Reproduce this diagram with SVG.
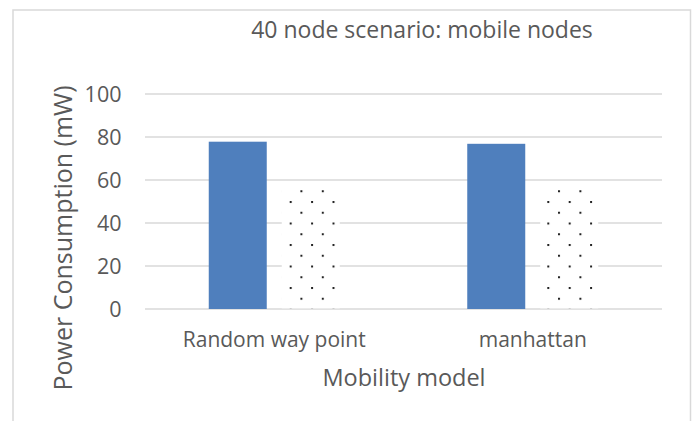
<svg xmlns="http://www.w3.org/2000/svg" width="697" height="421" viewBox="0 0 697 421">
<style>
text{font-family:"Open Sans","Liberation Sans",sans-serif;fill:#595959}
.grid{stroke:#d9d9d9;stroke-width:1.5}
.tick{font-size:21.5px;text-anchor:end}
.cat{font-size:21px;text-anchor:middle}
.blue{fill:#4f7fbd}
</style>
<defs>
<pattern id="dots1" patternUnits="userSpaceOnUse" x="289.7" y="201" width="21.4" height="21.5">
<rect x="0" y="0" width="2" height="2" fill="#222"/>
<rect x="10.7" y="10.75" width="2" height="2" fill="#222"/>
</pattern>
<pattern id="dots2" patternUnits="userSpaceOnUse" x="547.3" y="201" width="21.4" height="21.5">
<rect x="0" y="0" width="2" height="2" fill="#222"/>
<rect x="10.7" y="10.75" width="2" height="2" fill="#222"/>
</pattern>
</defs>
<rect x="0" y="0" width="697" height="421" fill="#fff"/>
<rect x="13" y="10" width="677.5" height="420" fill="#fff" stroke="#d9d9d9" stroke-width="1.5"/>
<text x="422" y="38" font-size="23" text-anchor="middle">40 node scenario: mobile nodes</text>
<g id="grid">
<line class="grid" x1="145" y1="94" x2="662" y2="94"/>
<line class="grid" x1="145" y1="137" x2="662" y2="137"/>
<line class="grid" x1="145" y1="180" x2="662" y2="180"/>
<line class="grid" x1="145" y1="223" x2="662" y2="223"/>
<line class="grid" x1="145" y1="266" x2="662" y2="266"/>
<line class="grid" x1="145" y1="309" x2="662" y2="309"/>
</g>
<g id="yticks">
<text class="tick" x="121.5" y="101.5">100</text>
<text class="tick" x="121.5" y="144.5">80</text>
<text class="tick" x="121.5" y="187.5">60</text>
<text class="tick" x="121.5" y="230.5">40</text>
<text class="tick" x="121.5" y="273.5">20</text>
<text class="tick" x="121.5" y="316.5">0</text>
</g>
<g id="bars">
<rect class="blue" x="208.75" y="141.7" width="58" height="167.3"/>
<rect x="281.75" y="189" width="58" height="119.3" fill="#fff"/>
<rect x="281.75" y="189" width="58" height="119.3" fill="url(#dots1)"/>
<rect class="blue" x="467.25" y="143.8" width="58" height="165.2"/>
<rect x="540.25" y="189" width="58" height="119.3" fill="#fff"/>
<rect x="540.25" y="189" width="58" height="119.3" fill="url(#dots2)"/>
</g>
<g id="xlabels">
<text class="cat" x="274.25" y="346.5">Random way point</text>
<text class="cat" x="532.75" y="346.5">manhattan</text>
</g>
<text x="404" y="386" font-size="23.5" text-anchor="middle">Mobility model</text>
<text transform="translate(72,238) rotate(-90)" font-size="25" text-anchor="middle">Power Consumption (mW)</text>
</svg>
